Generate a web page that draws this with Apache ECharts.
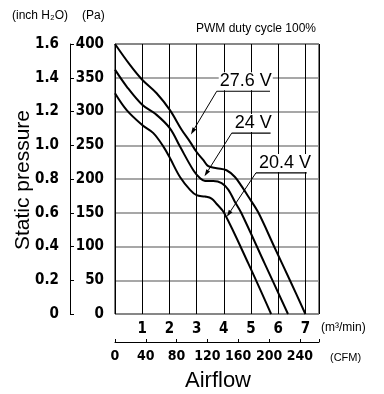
<!DOCTYPE html>
<html>
<head>
<meta charset="utf-8">
<script src="https://cdn.jsdelivr.net/npm/echarts@6/dist/echarts.min.js"></script>
<style>
html, body { margin: 0; padding: 0; background: #fff; }
#chart { width: 384px; height: 394px; }
</style>
</head>
<body>
<div id="chart"></div>
<script>
"use strict";

// airflow (m3/min), static pressure (Pa)
const curve276 = [[0, 400], [0.55, 369], [1.0, 347], [1.53, 327], [2.02, 302], [2.45, 273], [2.76, 255],
	[3.0, 240], [3.25, 228], [3.43, 219], [3.74, 216], [4.1, 213], [4.41, 203], [4.66, 189], [4.9, 174],
	[5.26, 151], [5.85, 100], [6.43, 50], [7.0, 0]];
const curve24 = [[0, 362], [0.43, 337], [1.0, 310], [1.53, 295], [2.02, 275], [2.39, 248], [2.88, 213],
	[3.13, 201], [3.31, 197], [3.61, 197], [3.92, 194], [4.17, 184], [4.41, 166], [4.64, 150], [5.5, 75], [6.36, 0]];
const curve204 = [[0, 327], [0.43, 302], [1.0, 280], [1.41, 268], [1.78, 248], [2.02, 231], [2.39, 203],
	[2.76, 184], [3.0, 176], [3.31, 174], [3.55, 171], [3.74, 163], [4.01, 150], [4.9, 75], [5.74, 0]];

// voltage labels: text, underline start, underline end (flow), arrow tip
const labelTexts = ["27.6 V", "24 V", "20.4 V"];
const labelAnchors = [[3.74, 330], [4.29, 268], [5.18, 209]];
const labelEnds = [5.70, 5.72, 7.05];
const labelTips = [[2.79, 266], [3.29, 204], [4.11, 144]];

const CFM_PER_M3MIN = 35.3147;
const FLOW_MAX = 7.5;

const tickFont = "'DejaVu Sans Condensed', 'Liberation Sans', sans-serif";
const chart = echarts.init(document.getElementById("chart"));

const curveSeries = (data) => ({
	type: "line",
	data: data,
	smooth: 0.35,
	showSymbol: false,
	lineStyle: { color: "#000", width: 2 },
	silent: true
});

chart.setOption({
	animation: false,
	grid: { left: 115, top: 44, width: 204, height: 270, show: true, borderColor: "#000", borderWidth: 1 },
	xAxis: [{
		type: "value", min: 0, max: FLOW_MAX, interval: 1,
		axisLine: { show: false, onZero: false }, axisTick: { show: false },
		axisLabel: {
			margin: 8, fontFamily: tickFont, fontWeight: "bold", fontSize: 15, color: "#000",
			formatter: (v) => (v > 0 && Number.isInteger(v)) ? String(v) : ""
		},
		splitLine: { show: true, lineStyle: { color: "#000", width: 1 } }
	}, {
		type: "value", position: "bottom", offset: 28, min: 0, max: FLOW_MAX * CFM_PER_M3MIN, interval: 40,
		axisLine: { show: true, onZero: false, lineStyle: { color: "#000", width: 1 } },
		axisTick: { show: true, inside: true, length: 3, lineStyle: { color: "#000" } },
		axisLabel: {
			margin: 7, fontFamily: tickFont, fontWeight: "bold", fontSize: 14, color: "#000",
			formatter: (v) => (v % 40 === 0) ? String(v) : ""
		},
		splitLine: { show: false }
	}],
	yAxis: [{
		type: "value", min: 0, max: 400, interval: 50,
		axisLine: { show: false, onZero: false }, axisTick: { show: false },
		axisLabel: { margin: 11, fontFamily: tickFont, fontWeight: "bold", fontSize: 15, color: "#000" },
		splitLine: { show: true, lineStyle: { color: "#8a8a8a", width: 1.5 } }
	}, {
		type: "value", position: "left", offset: 45, min: 0, max: 1.6, interval: 0.2,
		axisLine: { show: true, onZero: false, lineStyle: { color: "#000", width: 1 } },
		axisTick: { show: true, inside: true, length: 4, lineStyle: { color: "#000" } },
		axisLabel: {
			margin: 11, fontFamily: tickFont, fontWeight: "bold", fontSize: 15, color: "#000",
			formatter: (v) => v === 0 ? "0" : v.toFixed(1)
		},
		splitLine: { show: false }
	}],
	series: [curveSeries(curve276), curveSeries(curve24), curveSeries(curve204)]
});

// texts and voltage labels placed through the axes
const px = (p) => chart.convertToPixel({ xAxisIndex: 0, yAxisIndex: 0 }, p);
const elements = [];

labelTexts.forEach((text, i) => {
	const a = px(labelAnchors[i]);
	const e = px([labelEnds[i], labelAnchors[i][1]]);
	const t = px(labelTips[i]);
	const ang = Math.atan2(t[1] - a[1], t[0] - a[0]);
	const len = 7, half = 2.2;
	const bx = t[0] - len * Math.cos(ang), by = t[1] - len * Math.sin(ang);
	elements.push({
		type: "text", z: 10,
		style: { text: text, x: a[0] + 2, y: a[1] - 1, textVerticalAlign: "bottom",
			font: "18px 'Liberation Sans'", fill: "#000", backgroundColor: "#fff", padding: [0, 1, 0, 1] }
	});
	elements.push({ type: "line", z: 11, shape: { x1: a[0], y1: a[1], x2: e[0], y2: a[1] },
		style: { stroke: "#000", lineWidth: 1.2 } });
	elements.push({ type: "line", z: 11, shape: { x1: a[0], y1: a[1], x2: bx, y2: by },
		style: { stroke: "#000", lineWidth: 1 } });
	elements.push({ type: "polygon", z: 11,
		shape: { points: [[t[0], t[1]],
			[bx + half * Math.sin(ang), by - half * Math.cos(ang)],
			[bx - half * Math.sin(ang), by + half * Math.cos(ang)]] },
		style: { fill: "#000" } });
});

const plainText = (text, x, y, font, extra) => Object.assign({
	type: "text", z: 10,
	style: Object.assign({ text: text, x: x, y: y, font: font, fill: "#000", textVerticalAlign: "middle" }, extra || {})
});

elements.push(plainText("(inch H₂O)", 12, 16, "12px 'Liberation Sans'"));
elements.push(plainText("(Pa)", 82, 16, "12px 'Liberation Sans'"));
elements.push(plainText("PWM duty cycle 100%", 196, 29, "12px 'Liberation Sans'"));
elements.push(plainText("(m³/min)", 321, 328, "12px 'Liberation Sans'"));
elements.push(plainText("(CFM)", 330, 358, "11px 'Liberation Sans'"));
elements.push(plainText("Airflow", 218, 381, "22px 'Liberation Sans'", { textAlign: "center" }));
elements.push({
	type: "text", z: 10, x: 23, y: 180, rotation: Math.PI / 2,
	style: { text: "Static pressure", x: 0, y: 0, font: "21px 'Liberation Sans'", fill: "#000",
		textAlign: "center", textVerticalAlign: "middle" }
});

chart.setOption({ graphic: { elements: elements } });
</script>
</body>
</html>
